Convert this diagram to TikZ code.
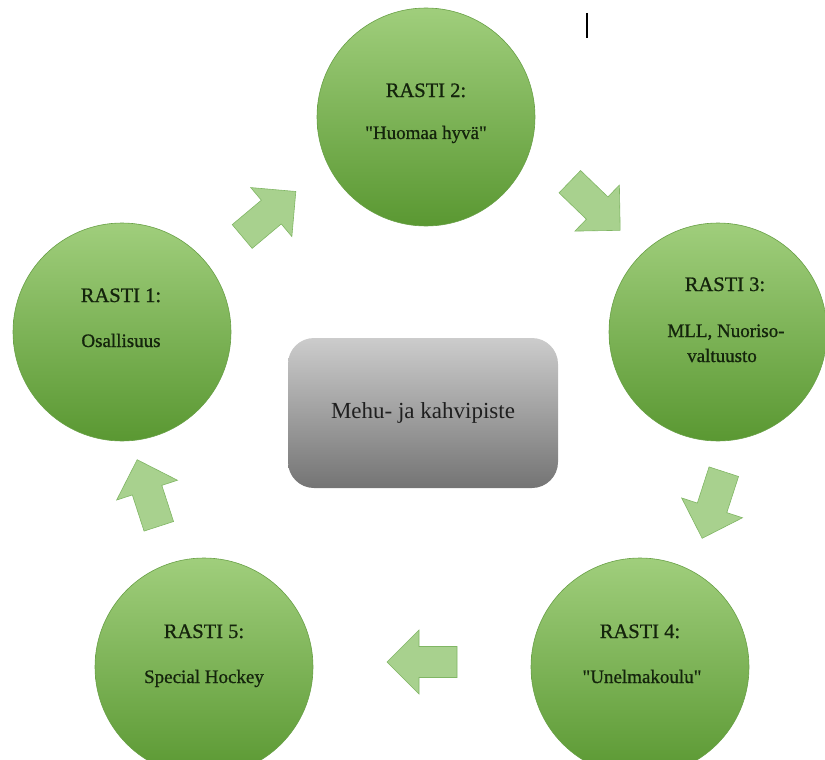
\documentclass[tikz,border=0pt]{standalone}
\usepackage{fontspec}
\setmainfont{Liberation Serif}
\newfontfamily\wordserif[FakeBold=0.8]{Liberation Serif}
\newfontfamily\boxserif{Liberation Serif}
\definecolor{ballTop}{RGB}{160,206,124}
\definecolor{ballBot}{RGB}{90,152,50}
\definecolor{ballEdge}{RGB}{104,160,70}
\definecolor{arrFill}{RGB}{168,209,142}
\definecolor{arrEdge}{RGB}{128,182,100}
\definecolor{boxTop}{RGB}{204,204,204}
\definecolor{boxBot}{RGB}{116,116,116}
\definecolor{ink}{RGB}{20,36,12}
\newcommand\sq{\char"22\relax}
\begin{document}
\begin{tikzpicture}[x=1pt,y=-1pt,
  station/.style={circle, minimum size=218pt, inner sep=0pt, draw=ballEdge,
    line width=0.6pt, top color=ballTop, bottom color=ballBot},
  headline/.style={anchor=base, text=ink, font=\wordserif\fontsize{20.5}{24}\selectfont},
  subline/.style={anchor=base, text=ink, font=\wordserif\fontsize{19}{23}\selectfont},
  hub/.style={rectangle, rounded corners=26pt, minimum width=270pt,
    minimum height=150pt, top color=boxTop, bottom color=boxBot,
    font=\boxserif\fontsize{23}{27}\selectfont, text=black!88},
  blockarrow/.pic={\filldraw[fill=arrFill, draw=arrEdge, line width=0.6pt]
    (-35,-15.5) -- (3,-15.5) -- (3,-32) -- (35,0) -- (3,32) -- (3,15.5)
    -- (-35,15.5) -- cycle;}
]
\useasboundingbox (0,0) rectangle (825,760);
\clip (0,0) rectangle (825,760);

% the five stations
\node[station] (s1) at (122,332) {};
\node[station] (s2) at (426,117) {};
\node[station] (s3) at (718,332) {};
\node[station] (s4) at (640,667) {};
\node[station] (s5) at (204,667) {};

% station texts
\node[headline] (t1a) at (121,302) {RASTI 1:};
\node[subline]  (t1b) at (121,347) {Osallisuus};
\node[headline] (t2a) at (426,97)  {RASTI 2:};
\node[subline]  (t2b) at (426,139) {\sq Huomaa hyvä\sq};
\node[headline] (t3a) at (725,291) {RASTI 3:};
\node[subline]  (t3b) at (726,337) {MLL, Nuoriso-};
\node[subline]  (t3c) at (722,362) {valtuusto};
\node[headline] (t4a) at (640,638) {RASTI 4:};
\node[subline]  (t4b) at (642,683) {\sq Unelmakoulu\sq};
\node[headline] (t5a) at (204,638) {RASTI 5:};
\node[subline]  (t5b) at (204,683) {Special Hockey};

% centre box
\node[hub] (hub) at (423,413) {Mehu- ja kahvipiste};

% block arrows between the stations
\pic[rotate=40]   (a12) at (269,214) {blockarrow};
\pic[rotate=-44]  (a23) at (595,206) {blockarrow};
\pic[rotate=-108] (a34) at (713,505) {blockarrow};
\pic[rotate=180]  (a45) at (422,662) {blockarrow};
\pic[rotate=108]  (a51) at (148,493) {blockarrow};

% text cursor
\coordinate (cur1) at (587,13);
\coordinate (cur2) at (587,38);
\draw[line width=1.2pt] (cur1) -- (cur2);
\end{tikzpicture}
\end{document}
